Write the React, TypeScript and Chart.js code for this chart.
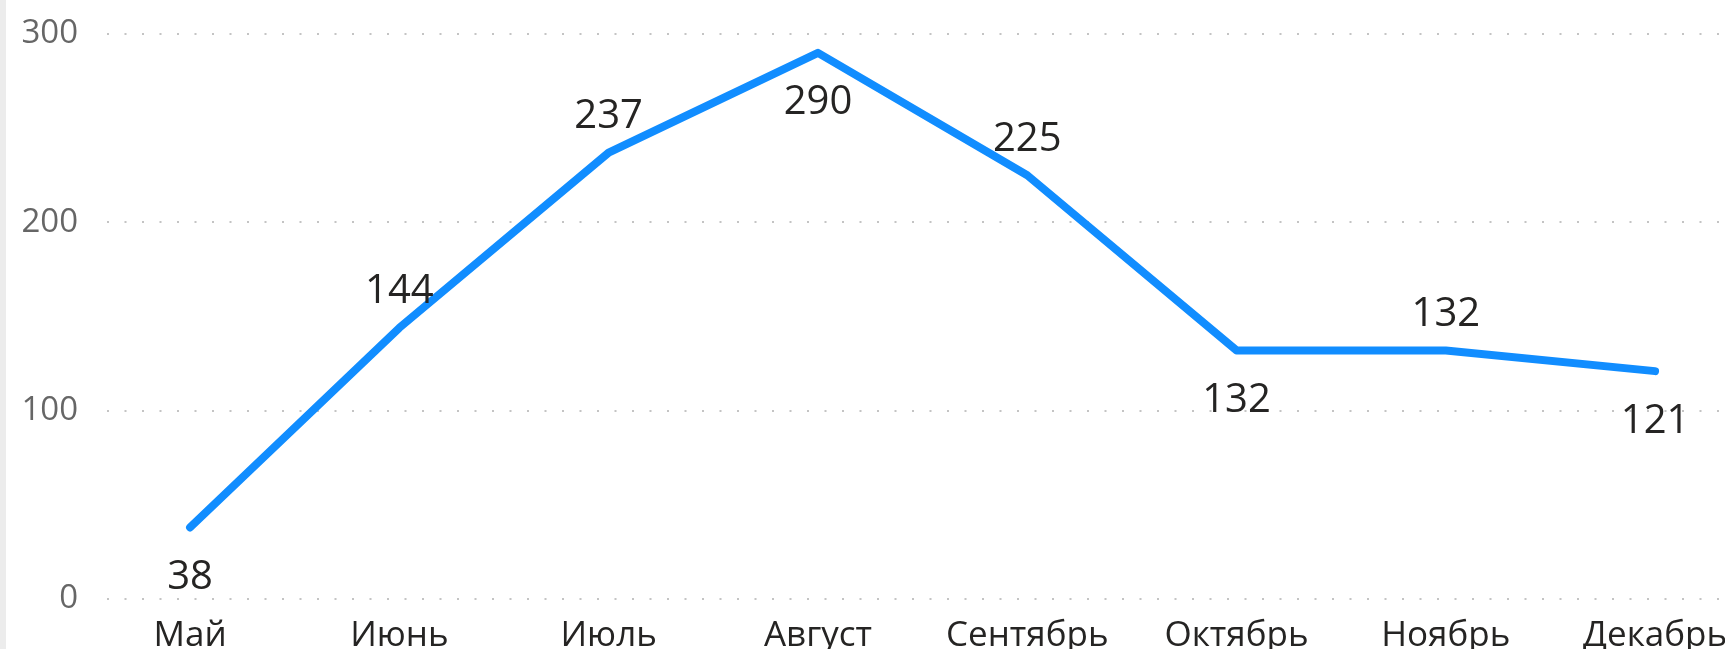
import React, { useEffect, useRef } from "react";
import { Chart, registerables } from "chart.js";

Chart.register(...registerables);

const months = ["Май", "Июнь", "Июль", "Август", "Сентябрь", "Октябрь", "Ноябрь", "Декабрь"];
const values = [38, 144, 237, 290, 225, 132, 132, 121];
const yTicks = [0, 100, 200, 300];
const labelSide = ["below", "above", "above", "below", "above", "below", "above", "below"];

const FONT = "'Open Sans', 'Noto Sans', 'DejaVu Sans', sans-serif";

const valueLabels = {
  id: "valueLabels",
  afterDatasetsDraw(chart: any) {
    const ctx = chart.ctx;
    const meta = chart.getDatasetMeta(0);
    ctx.save();
    ctx.font = `40px ${FONT}`;
    ctx.fillStyle = "#252423";
    ctx.textAlign = "center";
    ctx.textBaseline = "middle";
    meta.data.forEach((pt: any, i: number) => {
      const off = labelSide[i] === "above" ? -36 : 50;
      ctx.fillText(String(values[i]), pt.x, pt.y + off);
    });
    ctx.restore();
  },
};

export default function App() {
  const ref = useRef<HTMLCanvasElement>(null);
  useEffect(() => {
    if (!ref.current) return;
    const chart = new Chart(ref.current, {
      type: "line",
      data: {
        datasets: [
          {
            data: values.map((v, i) => ({ x: i, y: v })),
            borderColor: "#118DFF",
            borderWidth: 8,
            borderCapStyle: "round",
            borderJoinStyle: "round",
            pointRadius: 0,
            tension: 0,
          },
        ],
      },
      options: {
        responsive: false,
        animation: false,
        layout: { padding: { top: 34, left: 0, right: 0, bottom: 0 } },
        plugins: { legend: { display: false }, tooltip: { enabled: false } },
        scales: {
          x: {
            type: "linear",
            min: -0.397,
            max: 7.334,
            afterBuildTicks: (scale: any) => {
              scale.ticks = months.map((_, i) => ({ value: i }));
            },
            afterFit: (scale: any) => {
              scale.paddingLeft = 0;
              scale.paddingRight = 0;
              scale.height = 50;
            },
            ticks: {
              callback: (v: any) => months[v] ?? "",
              font: { family: FONT, size: 35 },
              color: "#252423",
              padding: 8,
              maxRotation: 0,
              autoSkip: false,
            },
            grid: { display: false },
            border: { display: false },
          },
          y: {
            min: 0,
            max: 300,
            afterBuildTicks: (scale: any) => {
              scale.ticks = yTicks.map((v) => ({ value: v }));
            },
            afterFit: (scale: any) => {
              scale.paddingTop = 0;
              scale.paddingBottom = 0;
              scale.width = 107;
            },
            ticks: {
              font: { family: FONT, size: 33 },
              color: "#666666",
              padding: 29,
            },
            grid: { color: "#c4c4c4", lineWidth: 2, drawTicks: false },
            border: { display: false, dash: [2, 15.5] },
          },
        },
      },
      plugins: [valueLabels],
    });
    return () => chart.destroy();
  }, []);
  return (
    <div style={{ position: "absolute", left: 0, top: 0, width: 1725, height: 649, background: "#fff" }}>
      <canvas ref={ref} width={1725} height={649} style={{ display: "block" }} />
      <div style={{ position: "absolute", left: 0, top: 0, width: 6, height: 649, background: "#ececec" }} />
    </div>
  );
}
